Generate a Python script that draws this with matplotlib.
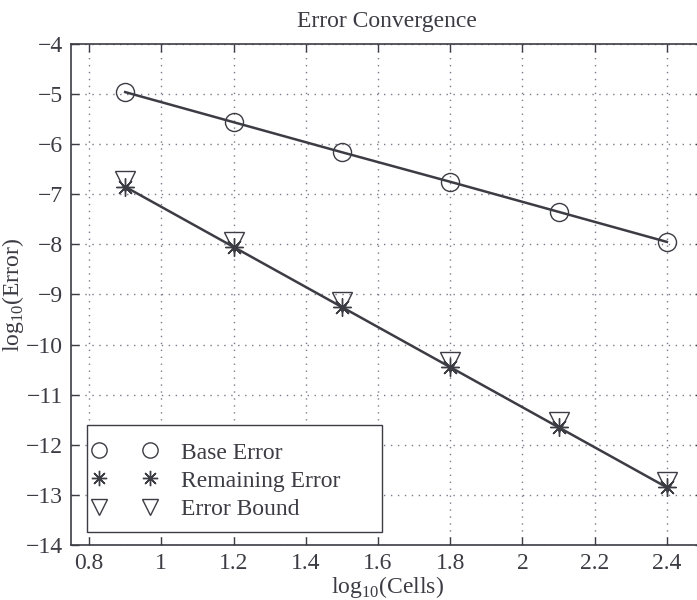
import matplotlib
matplotlib.use("Agg")
import matplotlib.pyplot as plt
from matplotlib.lines import Line2D
from matplotlib.patches import Rectangle

# log10 of number of cells
log_cells = [0.9, 1.2, 1.5, 1.8, 2.1, 2.4]
# log10 of errors
base_error = [-4.96, -5.56, -6.16, -6.75, -7.35, -7.95]
remaining_error = [-6.85, -8.05, -9.25, -10.45, -11.65, -12.85]
error_bound = [-6.74, -7.95, -9.15, -10.35, -11.55, -12.75]

x_ticks = [0.8, 1.0, 1.2, 1.4, 1.6, 1.8, 2.0, 2.2, 2.4]
x_tick_labels = ["0.8", "1", "1.2", "1.4", "1.6", "1.8", "2", "2.2", "2.4"]
y_ticks = [-14, -13, -12, -11, -10, -9, -8, -7, -6, -5, -4]
y_tick_labels = ["\u2212%d" % abs(v) for v in y_ticks]

ink = "#3c3c44"
fs = 17
plt.rcParams["font.family"] = ["Liberation Serif", "DejaVu Serif"]
plt.rcParams["mathtext.fontset"] = "custom"
plt.rcParams["mathtext.rm"] = "Liberation Serif"

fig = plt.figure(figsize=(6.97, 6.0), dpi=100)
W, H = 697, 600
left, right, top, bottom = 71, 703, 44, 545
ax = fig.add_axes([left / W, 1 - bottom / H, (right - left) / W, (bottom - top) / H])

ax.set_xlim(0.75, 2.5)
ax.set_ylim(-14, -4)

asterisk = (8, 2, 0)

# fitted lines through the base and remaining errors
ax.plot(log_cells, base_error, color=ink, lw=1.8, zorder=3)
ax.plot(log_cells, remaining_error, color=ink, lw=1.8, zorder=3)

ax.plot(log_cells, base_error, ls="none", marker="o", ms=13, mfc="none",
        mec=ink, mew=1.0, zorder=4)
ax.plot(log_cells, remaining_error, ls="none", marker=asterisk, ms=13,
        mec=ink, mew=1.0, zorder=4)
ax.plot(log_cells, error_bound, ls="none", marker="v", ms=14, mfc="none",
        mec=ink, mew=1.0, zorder=4)

ax.set_xticks(x_ticks)
ax.set_xticklabels(x_tick_labels)
ax.set_yticks(y_ticks)
ax.set_yticklabels(y_tick_labels)
ax.tick_params(direction="in", length=6, width=1.0, color=ink, labelcolor=ink,
               labelsize=fs, top=True, right=True, pad=6)
ax.grid(True, ls=(0, (1, 4)), color="#7a7a8a", lw=1.0)
for s in ax.spines.values():
    s.set_color(ink)
    s.set_linewidth(1.2)

ax.set_title("Error Convergence", fontsize=fs, color=ink, pad=12)
ax.set_xlabel(r"log$_{10}$(Cells)", fontsize=fs, color=ink, labelpad=0)
ax.set_ylabel(r"log$_{10}$(Error)", fontsize=fs, color=ink, labelpad=0)

# legend box, wider than its contents
box_l, box_r, box_t, box_b = 87, 382, 425, 532
fig.patches.append(Rectangle((box_l / W, 1 - box_b / H), (box_r - box_l) / W,
                             (box_b - box_t) / H, transform=fig.transFigure,
                             facecolor="white", edgecolor=ink, lw=1.0, zorder=5))

handles = [
    Line2D([], [], ls="none", marker="o", ms=11, mfc="none", mec=ink, mew=1.0),
    Line2D([], [], ls="none", marker=asterisk, ms=11, mec=ink, mew=1.0),
    Line2D([], [], ls="none", marker="v", ms=12, mfc="none", mec=ink, mew=1.0),
]
leg = fig.legend(handles, ["Base Error", "Remaining Error", "Error Bound"],
                 loc="upper left", bbox_to_anchor=(92 / W, 1 - 442 / H),
                 bbox_transform=fig.transFigure,
                 numpoints=2, fontsize=fs, frameon=False,
                 handlelength=2.75, handletextpad=1.0, labelspacing=0.28,
                 borderpad=0, borderaxespad=0)
leg.set_zorder(6)
for t in leg.get_texts():
    t.set_color(ink)

fig.savefig("out.png", dpi=100)
